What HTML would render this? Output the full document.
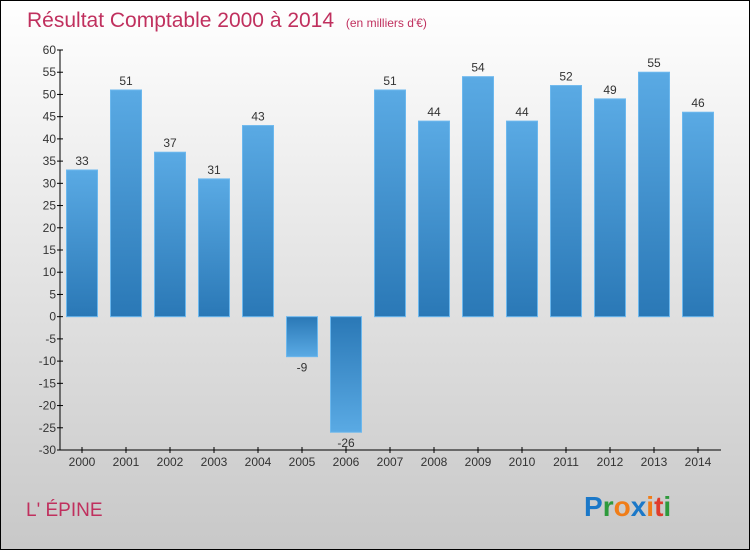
<!DOCTYPE html>
<html><head><meta charset="utf-8"><style>
body{margin:0}
svg text{font-family:"Liberation Sans",sans-serif}
</style></head><body>
<svg width="750" height="550" xmlns="http://www.w3.org/2000/svg">
<defs>
<linearGradient id="bg" x1="0" y1="0" x2="0" y2="1"><stop offset="0" stop-color="#ffffff"/><stop offset="1" stop-color="#c8c8c8"/></linearGradient>
<linearGradient id="gp" x1="0" y1="0" x2="0" y2="1"><stop offset="0" stop-color="#5aaae4"/><stop offset="1" stop-color="#2a78b6"/></linearGradient>
<linearGradient id="gn" x1="0" y1="0" x2="0" y2="1"><stop offset="0" stop-color="#2a78b6"/><stop offset="1" stop-color="#5aaae4"/></linearGradient>
</defs>
<rect x="0.5" y="0.5" width="749" height="549" fill="url(#bg)" stroke="#000"/>
<text x="27" y="27" font-size="21" fill="#c0305e">Résultat Comptable 2000 à 2014 <tspan font-size="12" dx="6">(en milliers d'€)</tspan></text>
<g id="plot"></g>
<text x="26" y="516" font-size="19" fill="#c0305e">L' ÉPINE</text>
<g font-size="28" font-family="Liberation Sans" font-weight="bold">
<text x="584" y="516"><tspan fill="#1b78c8">P</tspan><tspan fill="#2e9a3c">r</tspan><tspan fill="#f07d18">o</tspan><tspan fill="#1b78c8">x</tspan><tspan fill="#f07d18">i</tspan><tspan fill="#e03c2c">t</tspan><tspan fill="#2e9a3c">i</tspan></text>
</g>
</svg>
<script>
const categories=["2000","2001","2002","2003","2004","2005","2006","2007","2008","2009","2010","2011","2012","2013","2014"];
const values=[33,51,37,31,43,-9,-26,51,44,54,44,52,49,55,46];
const yTicks=[60,55,50,45,40,35,30,25,20,15,10,5,0,-5,-10,-15,-20,-25,-30];
const NS="http://www.w3.org/2000/svg";
const g=document.getElementById('plot');
const y=v=>50+(60-v)*400/90;
const x=i=>82+i*44;
function mk(t,a,txt){const e=document.createElementNS(NS,t);for(const k in a)e.setAttribute(k,a[k]);if(txt!=null)e.textContent=txt;g.appendChild(e);return e;}
let e=mk('line',{x1:60,y1:50,x2:60,y2:450,stroke:'#000'});


e=mk('line',{x1:60,y1:450,x2:721,y2:450,stroke:'#000'});


yTicks.forEach(v=>{
 let t=mk('line',{x1:57,y1:y(v),x2:63,y2:y(v),stroke:'#000'});
 
 
 let l=mk('text',{x:56,y:y(v)+4,'font-size':12,'text-anchor':'end',fill:'#333'},String(v));
 
 
});
categories.forEach((c,i)=>{
 const v=values[i];
 let t=mk('line',{x1:x(i),y1:447,x2:x(i),y2:453,stroke:'#000'});
 
 
 let l=mk('text',{x:x(i),y:466,'font-size':12,'text-anchor':'middle',fill:'#333'},c);
 
 
 const top=Math.min(y(v),y(0)),h=Math.abs(y(v)-y(0));
 let b=mk('rect',{x:x(i)-15.5,y:top,width:31,height:h,fill:v>=0?'url(#gp)':'url(#gn)',stroke:'#6cb8ee','stroke-width':1});
 
 
 let vl=mk('text',{x:x(i),y:v>=0?y(v)-5:y(v)+15,'font-size':12,'text-anchor':'middle',fill:'#333'},String(v));
 
 
});
</script>
</body></html>
